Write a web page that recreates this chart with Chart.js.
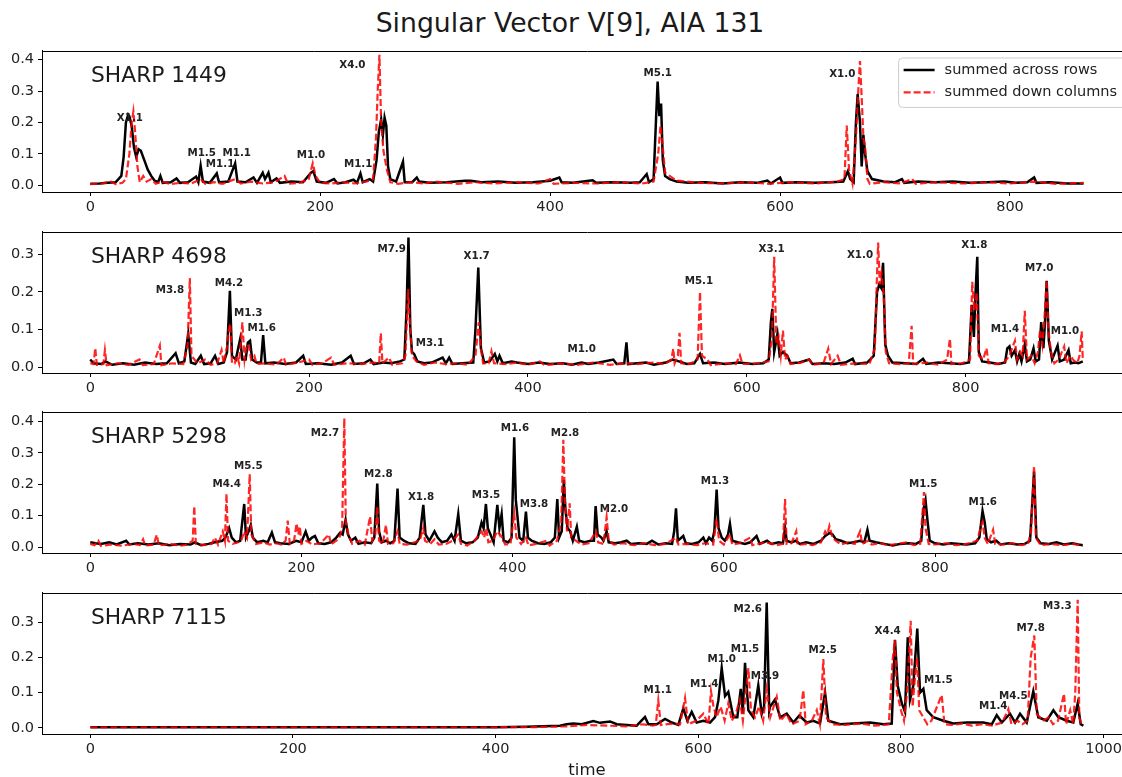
<!DOCTYPE html>
<html>
<head>
<meta charset="utf-8">
<title>Singular Vector V[9], AIA 131</title>
<script src="https://cdn.jsdelivr.net/npm/chart.js@4.4.1/dist/chart.umd.min.js"></script>
<style>
html, body { margin: 0; padding: 0; background: #fff; overflow: hidden; width: 1122px; height: 777px; }
#fig { position: relative; width: 1122px; height: 777px; overflow: hidden; font-family: "DejaVu Sans", sans-serif; color: #1a1a1a; }
canvas { position: absolute; left: 0; }
.lbl { position: absolute; transform: translate(-50%, -50%); white-space: nowrap; }
</style>
</head>
<body>
<div id="fig">
  <div class="lbl" style="left:570px; top:22px; font-size:26.7px;">Singular Vector V[9], AIA 131</div>
  <canvas id="p0" width="1140" height="184" style="top:38px"></canvas>
  <canvas id="p1" width="1140" height="184" style="top:219px"></canvas>
  <canvas id="p2" width="1140" height="184" style="top:399px"></canvas>
  <canvas id="p3" width="1140" height="184" style="top:580px"></canvas>
  <div class="lbl" style="left:587px; top:769px; font-size:16.5px;">time</div>
</div>
<script>
// ---- data: [time, value] ----
const rows1449 = [[0,0.005],[8,0.006],[15,0.008],[22,0.01],[27,0.03],[29,0.09],[31,0.2],[33,0.225],[34,0.22],[36,0.19],[38,0.12],[40,0.09],[42,0.115],[44,0.11],[46,0.09],[48,0.07],[50,0.05],[53,0.03],[56,0.015],[59,0.01],[61,0.03],[63,0.008],[70,0.01],[75,0.022],[78,0.008],[85,0.01],[92,0.028],[94,0.01],[96,0.062],[98,0.012],[104,0.008],[110,0.038],[112,0.01],[120,0.012],[126,0.07],[128,0.012],[135,0.01],[142,0.025],[145,0.008],[150,0.04],[152,0.02],[155,0.04],[157,0.01],[162,0.022],[165,0.008],[175,0.012],[185,0.01],[192,0.04],[194,0.045],[197,0.012],[205,0.008],[212,0.02],[215,0.006],[222,0.01],[229,0.018],[232,0.008],[235,0.038],[237,0.01],[243,0.02],[246,0.012],[249,0.08],[251,0.17],[253,0.21],[254.5,0.16],[256,0.215],[257.5,0.19],[259,0.06],[261,0.02],[266,0.012],[272,0.075],[273.5,0.01],[280,0.01],[284,0.025],[286,0.012],[295,0.008],[310,0.01],[326,0.015],[331,0.015],[340,0.01],[355,0.012],[370,0.008],[385,0.01],[400,0.015],[408,0.025],[410,0.01],[420,0.008],[437,0.016],[440,0.008],[455,0.01],[470,0.008],[478,0.01],[484,0.036],[486,0.01],[490,0.02],[492,0.2],[493.5,0.33],[495,0.22],[496.5,0.26],[498,0.08],[500,0.03],[504,0.02],[510,0.012],[520,0.008],[535,0.01],[550,0.006],[565,0.01],[580,0.008],[589,0.015],[592,0.006],[600,0.025],[602,0.008],[615,0.01],[630,0.008],[645,0.01],[655,0.012],[659,0.045],[661,0.02],[664,0.01],[666,0.2],[667.5,0.29],[669.5,0.2],[671,0.06],[672.5,0.16],[674,0.1],[676,0.045],[680,0.02],[690,0.012],[700,0.01],[706,0.02],[708,0.008],[720,0.012],[735,0.01],[750,0.012],[765,0.008],[780,0.01],[795,0.012],[805,0.008],[815,0.01],[821,0.025],[823,0.008],[835,0.01],[850,0.006],[864,0.006]];
const cols1449 = [[0,0.004],[10,0.006],[18,0.012],[22,0.004],[28,0.008],[31,0.02],[34,0.1],[36,0.2],[37.5,0.235],[39,0.17],[41,0.06],[43,0.01],[46,0.03],[49,0.012],[53,0.02],[57,0.005],[62,0.012],[70,0.004],[78,0.008],[88,0.006],[96,0.02],[100,0.005],[108,0.01],[115,0.005],[126,0.02],[131,0.006],[140,0.012],[150,0.006],[160,0.01],[169,0.03],[172,0.005],[182,0.008],[190,0.02],[193.5,0.07],[196,0.03],[200,0.008],[210,0.006],[220,0.01],[230,0.006],[240,0.012],[246,0.02],[248.5,0.15],[250,0.3],[251.5,0.415],[253,0.2],[255,0.11],[258,0.05],[261,0.01],[268,0.005],[278,0.01],[290,0.006],[300,0.012],[320,0.005],[335,0.01],[350,0.006],[370,0.01],[390,0.006],[400,0.02],[403,0.005],[420,0.008],[440,0.006],[460,0.01],[480,0.006],[490,0.012],[494,0.1],[496,0.19],[498,0.12],[500,0.04],[504,0.03],[510,0.015],[530,0.008],[550,0.006],[570,0.01],[590,0.005],[610,0.01],[630,0.006],[650,0.012],[656,0.02],[658,0.19],[660,0.05],[663,0.005],[666,0.15],[668,0.3],[669.5,0.395],[671,0.28],[672.5,0.15],[674,0.12],[676,0.02],[678,0.005],[690,0.01],[705,0.006],[715,0.02],[718,0.005],[735,0.01],[760,0.006],[780,0.01],[800,0.006],[820,0.012],[840,0.005],[864,0.008]];
const flares1449 = [['X1.1',34.5,0.216],['M1.5',96.9,0.105],['M1.1',112.9,0.071],['M1.1',127.4,0.105],['M1.0',192,0.1],['M1.1',233,0.069],['X4.0',228,0.384],['M5.1',493.6,0.36],['X1.0',654.1,0.358]];

const rows4698 = [[0,0.02],[3,0.01],[10,0.008],[14,0.015],[20,0.006],[30,0.01],[40,0.006],[50,0.012],[60,0.008],[70,0.01],[78,0.037],[81,0.01],[86,0.015],[89.5,0.088],[92,0.012],[96,0.008],[101,0.03],[104,0.008],[110,0.01],[114,0.03],[117,0.008],[122,0.012],[125,0.04],[127.6,0.203],[129.5,0.03],[133,0.02],[137,0.075],[139,0.02],[142,0.02],[144,0.065],[146,0.07],[148,0.02],[152,0.012],[156,0.012],[158,0.085],[160,0.01],[168,0.012],[178,0.008],[188,0.012],[194.6,0.03],[197,0.008],[208,0.01],[220,0.006],[230,0.012],[238,0.03],[241,0.008],[250,0.01],[256,0.02],[259,0.008],[268,0.012],[275,0.01],[283,0.015],[287,0.02],[289,0.15],[290.8,0.345],[292.5,0.1],[294,0.04],[296,0.035],[299,0.015],[305,0.01],[312,0.012],[322,0.025],[325,0.01],[328,0.025],[331,0.008],[340,0.01],[350,0.012],[352,0.1],[354.6,0.265],[357,0.05],[360,0.012],[365,0.015],[369.7,0.035],[372,0.015],[374,0.03],[377,0.01],[385,0.015],[390,0.012],[400,0.008],[410,0.012],[420,0.008],[432,0.01],[440,0.006],[449,0.012],[455,0.008],[465,0.012],[478,0.02],[481,0.008],[488,0.01],[490,0.066],[491.5,0.008],[500,0.01],[508,0.012],[515,0.006],[526,0.012],[532,0.02],[538,0.015],[545,0.008],[552,0.01],[557.2,0.035],[560,0.01],[570,0.012],[580,0.008],[593,0.012],[605,0.008],[615,0.01],[620,0.02],[622,0.12],[623.3,0.155],[625,0.04],[628,0.088],[630,0.03],[633,0.04],[637,0.03],[640,0.01],[648,0.012],[657,0.02],[660,0.008],[670,0.01],[680,0.008],[690,0.012],[696.7,0.022],[699,0.008],[710,0.012],[716,0.03],[719,0.2],[721,0.22],[723,0.21],[724.5,0.278],[726.5,0.06],[729,0.03],[733,0.012],[745,0.01],[755,0.008],[761,0.022],[764,0.008],[775,0.012],[785,0.01],[795,0.008],[803,0.012],[805.5,0.166],[807.5,0.08],[809,0.2],[810.6,0.294],[812,0.04],[815,0.015],[822,0.012],[830,0.008],[836,0.012],[838,0.05],[840,0.055],[842,0.03],[845,0.045],[847,0.015],[849,0.035],[851,0.015],[854,0.06],[856,0.015],[859,0.02],[862,0.05],[864,0.015],[867,0.02],[869,0.12],[871,0.05],[872.5,0.12],[874,0.23],[876,0.07],[879,0.02],[884,0.057],[886,0.015],[890,0.02],[894,0.045],[896,0.01],[900,0.012],[903,0.01],[907,0.015]];
const cols4698 = [[0,0.01],[3,0.008],[4.6,0.05],[6,0.006],[12,0.008],[13.4,0.045],[15,0.005],[25,0.01],[35,0.006],[45,0.02],[48,0.005],[58,0.008],[63.6,0.057],[65,0.005],[75,0.01],[85,0.008],[89,0.06],[91,0.237],[92.5,0.03],[98,0.01],[105,0.02],[110,0.006],[116,0.01],[120,0.045],[122,0.01],[125,0.055],[126.5,0.1],[128,0.115],[129.5,0.01],[132,0.01],[134,0.03],[136,0.01],[139,0.119],[141,0.02],[143,0.06],[145,0.055],[147,0.02],[150,0.03],[152,0.008],[160,0.01],[170,0.006],[176.8,0.025],[179,0.006],[190,0.012],[200,0.02],[203,0.006],[212,0.01],[220,0.025],[223,0.006],[235,0.01],[248,0.008],[258,0.012],[264,0.01],[265.5,0.09],[267,0.01],[273,0.025],[276,0.006],[285,0.01],[288,0.03],[290.5,0.208],[292,0.12],[294,0.03],[298,0.015],[305,0.006],[315,0.012],[325,0.008],[335,0.01],[345,0.006],[352,0.03],[355,0.119],[357,0.05],[359,0.01],[364,0.01],[366.6,0.042],[369,0.01],[380,0.008],[390,0.012],[400,0.006],[411,0.015],[415,0.005],[430,0.01],[445,0.006],[460,0.012],[475,0.006],[490,0.01],[500,0.008],[515,0.012],[525,0.008],[531,0.02],[532.8,0.049],[534,0.01],[537,0.03],[538.5,0.091],[540,0.01],[548,0.008],[555,0.02],[557.2,0.2],[559,0.03],[564,0.02],[567,0.005],[580,0.01],[590,0.008],[593.7,0.031],[596,0.008],[610,0.01],[620,0.015],[623,0.08],[625,0.294],[627,0.06],[629,0.08],[631,0.03],[633,0.097],[635,0.02],[637,0.03],[640,0.008],[650,0.012],[657,0.02],[660,0.006],[670,0.01],[674.4,0.049],[677,0.008],[683,0.03],[686,0.006],[700,0.01],[712,0.008],[717,0.05],[719,0.25],[720,0.332],[721.5,0.22],[723,0.25],[725,0.2],[727,0.04],[730,0.01],[740,0.008],[748,0.01],[750.6,0.11],[752,0.008],[765,0.012],[775,0.006],[783,0.02],[785.6,0.075],[787,0.008],[797,0.01],[804,0.02],[806,0.227],[808,0.15],[810,0.2],[812,0.03],[816,0.02],[819,0.05],[821,0.01],[828,0.008],[835,0.012],[840,0.03],[843,0.055],[845,0.07],[847,0.02],[850,0.04],[852,0.03],[854,0.15],[856,0.02],[860,0.03],[863,0.01],[866,0.04],[868,0.1],[870,0.06],[872,0.13],[874,0.232],[875.5,0.1],[878,0.04],[881,0.01],[885,0.02],[890,0.055],[892,0.01],[896,0.03],[898,0.02],[902,0.01],[904,0.03],[906,0.095],[907,0.02]];
const flares4698 = [['M3.8',72.8,0.208],['M4.2',126.7,0.225],['M1.3',144.4,0.146],['M1.6',156.6,0.106],['M7.9',275.4,0.317],['M3.1',310.4,0.066],['X1.7',353.1,0.298],['M1.0',449.1,0.05],['M5.1',556.2,0.232],['X3.1',622.7,0.317],['X1.0',703.4,0.3],['X1.8',807.9,0.327],['M1.4',835.9,0.104],['M7.0',867.2,0.265],['M1.0',890.7,0.097]];

const rows5298 = [[0,0.015],[5,0.012],[10,0.01],[18,0.015],[25,0.008],[34,0.02],[37,0.008],[45,0.012],[55,0.008],[65,0.012],[75,0.006],[85,0.01],[95,0.008],[99,0.015],[105,0.006],[112,0.01],[118,0.015],[125,0.02],[128,0.03],[131.5,0.06],[134,0.03],[138,0.015],[142,0.02],[145.8,0.137],[147.5,0.03],[150,0.05],[152,0.07],[154,0.03],[158,0.015],[164,0.02],[168,0.015],[172,0.046],[175,0.015],[180,0.012],[188,0.01],[195,0.02],[200,0.015],[204,0.049],[207,0.02],[210,0.03],[212.8,0.035],[216,0.012],[222,0.01],[228,0.015],[233,0.03],[236.5,0.045],[239,0.04],[241.8,0.086],[244,0.04],[247,0.02],[251,0.03],[254,0.01],[260,0.015],[266,0.012],[269,0.03],[271.8,0.202],[273.5,0.05],[276,0.015],[280,0.02],[284,0.012],[288,0.02],[291,0.186],[293,0.03],[297,0.02],[302,0.012],[308,0.01],[312,0.03],[315.4,0.134],[317.5,0.04],[321,0.02],[326,0.05],[329,0.03],[333,0.015],[338,0.02],[342,0.04],[345,0.02],[348.5,0.105],[351,0.02],[356,0.012],[362,0.015],[367,0.03],[370.6,0.078],[372.5,0.06],[374.7,0.137],[376.5,0.06],[379,0.04],[382,0.015],[385.5,0.134],[387.5,0.06],[389.6,0.105],[391.5,0.02],[396,0.015],[399,0.03],[401.5,0.349],[403,0.15],[404.5,0.1],[406.5,0.03],[410,0.02],[412.6,0.113],[414.5,0.03],[418,0.02],[424,0.012],[430,0.01],[436,0.015],[440,0.03],[442.3,0.153],[444,0.03],[446.5,0.05],[448.5,0.213],[450,0.12],[452,0.06],[454.5,0.05],[457,0.02],[460.8,0.065],[463,0.02],[468,0.015],[474,0.02],[477,0.02],[478.6,0.13],[480.5,0.04],[484,0.03],[486,0.02],[489,0.05],[491,0.015],[497,0.012],[503,0.015],[508,0.02],[512,0.01],[520,0.012],[527,0.01],[532,0.02],[538,0.008],[545,0.012],[551,0.01],[553,0.05],[554.7,0.123],[556.5,0.02],[561.6,0.035],[564,0.012],[570,0.01],[576,0.015],[580.6,0.03],[583,0.012],[586,0.03],[589,0.02],[591,0.05],[593.2,0.183],[595,0.06],[598,0.03],[601,0.02],[604,0.04],[605.8,0.074],[608,0.02],[613,0.015],[620,0.01],[625,0.015],[631,0.035],[634,0.01],[641,0.02],[645,0.01],[652,0.015],[656,0.012],[658,0.06],[659.5,0.02],[664,0.015],[668,0.02],[672,0.01],[678,0.015],[685,0.01],[692,0.02],[696,0.035],[700,0.045],[703,0.04],[706,0.025],[711,0.02],[717,0.012],[723,0.015],[729,0.02],[733,0.015],[736,0.055],[738,0.02],[744,0.015],[752,0.01],[760,0.005],[767,0.01],[775,0.012],[782,0.01],[787,0.02],[789,0.12],[791,0.15],[793,0.08],[795,0.02],[800,0.012],[808,0.008],[815,0.012],[823,0.01],[830,0.008],[838,0.012],[842,0.03],[845,0.115],[847,0.08],[849,0.025],[853,0.015],[858,0.02],[862,0.008],[870,0.012],[878,0.008],[885,0.01],[890,0.02],[893.8,0.24],[896,0.03],[900,0.012],[908,0.01],[915,0.015],[922,0.008],[930,0.012],[936,0.008],[940,0.006]];
const cols5298 = [[0,0.01],[4,0.006],[7.6,0.02],[10,0.004],[20,0.008],[30,0.004],[40,0.01],[47,0.006],[50,0.025],[52,0.005],[60,0.008],[63,0.039],[65,0.005],[75,0.01],[85,0.004],[92,0.008],[97,0.02],[98.5,0.13],[100,0.01],[108,0.006],[115,0.01],[118,0.03],[121,0.008],[125.5,0.05],[127.5,0.02],[129,0.17],[130.5,0.02],[135,0.01],[140,0.015],[143,0.02],[145.8,0.05],[148.5,0.03],[151,0.232],[152.5,0.04],[157,0.01],[164,0.015],[170,0.008],[176,0.012],[181,0.008],[185,0.02],[187,0.084],[189,0.01],[193,0.02],[195.4,0.075],[197,0.04],[198.5,0.065],[200,0.01],[205,0.02],[210,0.008],[218,0.012],[226,0.04],[228,0.008],[233,0.02],[236,0.03],[238.5,0.06],[240.6,0.41],[242,0.08],[244.5,0.04],[248,0.01],[255,0.02],[260,0.008],[265,0.097],[267,0.02],[270,0.04],[271.8,0.13],[273.5,0.02],[277,0.01],[280,0.07],[282,0.01],[287,0.012],[291,0.05],[293,0.01],[300,0.008],[307,0.015],[312,0.02],[315.4,0.06],[317,0.02],[322,0.01],[326,0.025],[330,0.008],[337,0.01],[343,0.02],[348.5,0.04],[351,0.01],[357,0.005],[364,0.02],[368,0.04],[370.6,0.05],[373,0.03],[375,0.06],[377,0.015],[381,0.02],[385.5,0.05],[388,0.04],[390,0.03],[393,0.008],[398,0.01],[401.5,0.107],[403.5,0.03],[408,0.01],[412.6,0.03],[415,0.005],[422,0.01],[432,0.02],[435,0.005],[442,0.02],[446,0.08],[448,0.341],[449.5,0.15],[451.5,0.05],[454,0.139],[455.5,0.03],[460,0.02],[465,0.008],[472,0.012],[479,0.05],[481,0.015],[486,0.01],[489,0.095],[491,0.02],[496,0.008],[505,0.012],[515,0.006],[525,0.012],[535,0.006],[545,0.01],[554.7,0.03],[557,0.008],[565,0.01],[575,0.006],[582,0.012],[590,0.008],[593.2,0.09],[595.5,0.02],[600,0.008],[605.8,0.04],[608,0.008],[615,0.012],[625,0.03],[627,0.006],[633,0.01],[640,0.015],[650,0.006],[656,0.01],[658,0.153],[659.5,0.01],[664,0.012],[668.6,0.05],[670,0.006],[677,0.01],[684,0.006],[692,0.015],[696,0.05],[698,0.04],[700,0.067],[703,0.03],[706,0.02],[711,0.008],[718,0.015],[724,0.01],[729,0.05],[731,0.01],[736,0.02],[740,0.008],[748,0.012],[755,0.006],[765,0.01],[773,0.015],[780,0.006],[786,0.01],[788,0.1],[789.5,0.175],[791,0.06],[794,0.01],[800,0.008],[810,0.012],[820,0.006],[830,0.01],[840,0.02],[843,0.06],[845,0.08],[847,0.03],[850,0.01],[855,0.055],[857,0.01],[865,0.008],[873,0.012],[882,0.006],[888,0.01],[891,0.05],[893.8,0.257],[895.5,0.03],[900,0.006],[910,0.01],[920,0.006],[930,0.01],[940,0.005]];
const flares5298 = [['M4.4',129.2,0.202],['M5.5',149.7,0.26],['M2.7',222.3,0.365],['M2.8',272.8,0.236],['X1.8',313.2,0.163],['M3.5',374.8,0.168],['M1.6',402.2,0.381],['M3.8',420.2,0.141],['M2.8',449.6,0.365],['M2.0',496,0.123],['M1.3',591.6,0.213],['M1.5',788.9,0.202],['M1.6',845.2,0.146]];

const rows7115 = [[0,0.0015],[100,0.0015],[200,0.0015],[300,0.0015],[400,0.0015],[430,0.003],[463.5,0.006],[470,0.01],[476.7,0.012],[485,0.01],[496.4,0.019],[503,0.014],[512.9,0.018],[519.5,0.01],[529.3,0.008],[539.2,0.006],[547.4,0.031],[550.7,0.01],[559,0.01],[567.2,0.025],[573.8,0.015],[580.3,0.008],[585.2,0.055],[589.2,0.02],[593.5,0.045],[598.4,0.015],[605,0.02],[611.6,0.015],[616.5,0.03],[619.8,0.078],[623.1,0.17],[626.4,0.09],[629.6,0.102],[634.6,0.03],[638.5,0.03],[641.9,0.111],[643.8,0.04],[646.1,0.185],[649.4,0.05],[654.3,0.03],[659.2,0.121],[662.6,0.04],[664.9,0.06],[667.5,0.357],[670,0.05],[670.8,0.06],[675.7,0.08],[680.7,0.03],[687.2,0.04],[693.8,0.015],[699.7,0.035],[707,0.015],[713.5,0.02],[720.1,0.012],[725.1,0.1],[728.3,0.02],[739.9,0.01],[753,0.012],[769.5,0.015],[782.6,0.01],[790.9,0.012],[794.1,0.251],[796.8,0.12],[800.8,0.07],[804,0.045],[806.7,0.258],[808.9,0.08],[812.2,0.12],[816.1,0.283],[818.8,0.1],[822.1,0.111],[825.4,0.05],[831.9,0.03],[841.8,0.02],[851.7,0.012],[864.9,0.015],[881.3,0.015],[889.6,0.01],[894.5,0.036],[899.5,0.015],[907.6,0.04],[912.6,0.015],[917.5,0.04],[924.1,0.015],[930.6,0.104],[935.5,0.03],[943.9,0.02],[950.4,0.05],[955.3,0.03],[963.6,0.02],[970.1,0.015],[974.4,0.069],[977.4,0.01],[980,0.006]];
const cols7115 = [[0,0.0015],[100,0.0015],[200,0.0015],[300,0.0015],[400,0.0015],[440,0.002],[470,0.004],[490,0.008],[510,0.006],[530,0.004],[545,0.01],[555,0.006],[558,0.008],[560.5,0.078],[563,0.008],[575,0.012],[582,0.01],[586.9,0.085],[590,0.01],[598,0.02],[605,0.04],[610,0.01],[612.5,0.104],[615,0.06],[618,0.03],[622,0.06],[626,0.02],[629.6,0.07],[633,0.02],[637,0.04],[641,0.08],[644,0.02],[649.4,0.17],[652,0.05],[656,0.03],[660,0.06],[664,0.02],[667.5,0.11],[671,0.03],[677.4,0.088],[681,0.02],[687,0.04],[692,0.01],[700,0.02],[703.6,0.107],[706,0.01],[712,0.02],[716.9,0.05],[720,0.01],[723.4,0.196],[726,0.03],[732,0.01],[745,0.008],[760,0.012],[775,0.006],[788,0.01],[792,0.2],[794,0.25],[796,0.1],[800,0.05],[803,0.02],[806,0.1],[809.6,0.305],[811.5,0.06],[814,0.15],[816,0.2],[818,0.05],[822,0.03],[826,0.01],[830,0.02],[840.2,0.093],[843,0.01],[850,0.008],[860,0.012],[870,0.006],[880,0.01],[890,0.006],[900,0.015],[906,0.053],[909,0.01],[915,0.02],[920,0.01],[925,0.02],[928,0.2],[931.6,0.263],[934,0.04],[940,0.02],[946,0.03],[950,0.01],[955,0.02],[960.9,0.097],[963,0.01],[967,0.05],[970,0.01],[972,0.1],[974.4,0.365],[976,0.03],[978,0.01],[980,0.006]];
const flares7115 = [['M1.1',560,0.111],['M1.4',605.9,0.127],['M1.0',623.1,0.198],['M1.5',646.1,0.228],['M2.6',648.8,0.341],['M3.9',665.8,0.149],['M2.5',722.8,0.223],['X4.4',786.9,0.279],['M1.5',836.9,0.138],['M1.4',891.1,0.064],['M4.5',910.9,0.093],['M7.8',928,0.286],['M3.3',954.3,0.349]];

const xTicksShort = [0, 200, 400, 600, 800];
const xTicksLong = [0, 200, 400, 600, 800, 1000];
const yTicks04 = [0, 0.1, 0.2, 0.3, 0.4];
const yTicks03 = [0, 0.1, 0.2, 0.3];
const seriesLabels = ['summed across rows', 'summed down columns'];

Chart.defaults.font.family = '"DejaVu Sans", sans-serif';
Chart.defaults.font.size = 14.5;
Chart.defaults.color = '#222';

const decor = {
  id: 'decor',
  afterDatasetsDraw(chart, args, opts) {
    const {ctx, chartArea: a, scales} = chart;
    ctx.save();
    // top spine (the right one lies outside the picture)
    ctx.strokeStyle = '#000';
    ctx.lineWidth = 1;
    ctx.beginPath();
    ctx.moveTo(a.left, Math.round(a.top) + 0.5);
    ctx.lineTo(a.right, Math.round(a.top) + 0.5);
    ctx.stroke();

    // region name
    ctx.fillStyle = '#1a1a1a';
    ctx.font = '21.8px "DejaVu Sans"';
    ctx.textAlign = 'left';
    ctx.textBaseline = 'alphabetic';
    ctx.fillText(opts.name, a.left + 49, a.top + 31.5);

    // flare labels
    ctx.font = 'bold 10.3px "DejaVu Sans"';
    ctx.textAlign = 'center';
    ctx.fillStyle = '#222';
    opts.flares.forEach(f => {
      const x = scales.x.getPixelForValue(f[1]);
      const y = scales.y.getPixelForValue(f[2]);
      ctx.fillText(f[0], x, y + 3.8);
    });

    if (opts.legend) {
      ctx.font = '14.5px "DejaVu Sans"';
      const ds = chart.data.datasets;
      const tw = Math.max(...ds.map(d => ctx.measureText(d.label).width));
      const right = a.right - 7;
      const left = right - tw - 9 - 46;
      const top = a.top + 7.3, bottom = a.top + 56.7;
      ctx.beginPath();
      ctx.roundRect(left, top, right - left, bottom - top, 4);
      ctx.fillStyle = 'rgba(255,255,255,0.8)';
      ctx.fill();
      ctx.strokeStyle = '#cccccc';
      ctx.stroke();
      ds.forEach((d, i) => {
        const y = a.top + 19.3 + i * 22.4;
        ctx.beginPath();
        ctx.strokeStyle = d.borderColor;
        ctx.lineWidth = d.borderWidth;
        ctx.setLineDash(d.borderDash || []);
        ctx.moveTo(left + 5, y);
        ctx.lineTo(left + 36, y);
        ctx.stroke();
        ctx.setLineDash([]);
        ctx.fillStyle = '#222';
        ctx.textAlign = 'left';
        ctx.textBaseline = 'middle';
        ctx.fillText(d.label, left + 46, y);
      });
    }
    ctx.restore();
  }
};

function toPoints(pairs) {
  return pairs.map(p => ({x: p[0], y: p[1]}));
}

function buildPanel(id, p) {
  const ctx = document.getElementById(id).getContext('2d');
  new Chart(ctx, {
    type: 'line',
    data: {
      datasets: [
        { label: seriesLabels[0], data: toPoints(p.rows), borderColor: '#000000',
          borderWidth: 2.5, order: 2 },
        { label: seriesLabels[1], data: toPoints(p.cols), borderColor: 'rgba(255,0,0,0.85)',
          borderWidth: 2.2, borderDash: [7, 3], order: 1 }
      ]
    },
    options: {
      responsive: false,
      animation: false,
      events: [],
      layout: { padding: { top: 12, right: 7, left: 0, bottom: 0 } },
      elements: { point: { radius: 0 }, line: { tension: 0, fill: false } },
      plugins: {
        legend: { display: false },
        tooltip: { enabled: false },
        decor: { name: p.name, flares: p.flares, legend: p.legend }
      },
      scales: {
        x: {
          type: 'linear', min: p.xMin, max: p.xMax,
          afterBuildTicks: s => { s.ticks = p.xTicks.map(v => ({value: v})); },
          afterFit: s => { s.height = 30; },
          ticks: { autoSkip: false, maxRotation: 0, padding: 3, callback: v => String(v) },
          grid: { drawOnChartArea: false, tickLength: 4, tickColor: '#000', tickWidth: 1 },
          border: { color: '#000', width: 1 }
        },
        y: {
          min: p.yMin, max: p.yMax,
          afterBuildTicks: s => { s.ticks = p.yTicks.map(v => ({value: v})); },
          afterFit: s => { s.width = 42; },
          ticks: { padding: 4, callback: v => v.toFixed(1) },
          grid: { drawOnChartArea: false, tickLength: 4, tickColor: '#000', tickWidth: 1 },
          border: { color: '#000', width: 1 }
        }
      }
    },
    plugins: [decor]
  });
}

buildPanel('p0', { name: 'SHARP 1449', rows: rows1449, cols: cols1449, flares: flares1449, legend: true,
  xMin: -42.0, xMax: 907.0, yMin: -0.0211, yMax: 0.4283, xTicks: xTicksShort, yTicks: yTicks04 });
buildPanel('p1', { name: 'SHARP 4698', rows: rows4698, cols: cols4698, flares: flares4698, legend: false,
  xMin: -44.1, xMax: 952.9, yMin: -0.0159, yMax: 0.3607, xTicks: xTicksShort, yTicks: yTicks03 });
buildPanel('p2', { name: 'SHARP 5298', rows: rows5298, cols: cols5298, flares: flares5298, legend: false,
  xMin: -45.7, xMax: 987.5, yMin: -0.019, yMax: 0.4307, xTicks: xTicksShort, yTicks: yTicks04 });
buildPanel('p3', { name: 'SHARP 7115', rows: rows7115, cols: cols7115, flares: flares7115, legend: false,
  xMin: -47.7, xMax: 1029.0, yMin: -0.0178, yMax: 0.385, xTicks: xTicksLong, yTicks: yTicks03 });
</script>
</body>
</html>
